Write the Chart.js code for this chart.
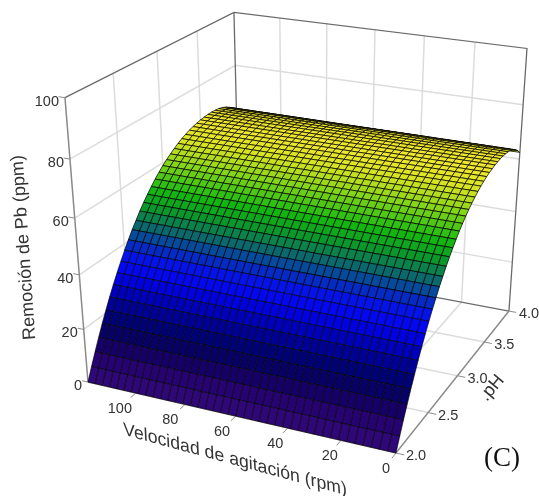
<!DOCTYPE html>
<html>
<head>
<meta charset="utf-8">
<title>Remoción de Pb</title>
<style>
    html, body { margin: 0; padding: 0; background: #fff; }
    canvas { display: block; }
</style>
<script src="https://cdn.jsdelivr.net/npm/chart.js@4"></script>
</head>
<body>
<canvas id="surface" width="539" height="496"></canvas>
<script>
// Mesh of the surface
const velocidad = [0, 3, 6, 9, 12, 15, 18, 21, 24, 27, 30, 33, 36, 39, 42, 45, 48, 51, 54, 57, 60, 63, 66, 69, 72, 75, 78, 81, 84, 87, 90, 93, 96, 99, 102, 105, 108, 111, 114, 117, 120];
const pHValues = [2.00, 2.05, 2.10, 2.15, 2.20, 2.25, 2.30, 2.35, 2.40, 2.45, 2.50, 2.55, 2.60, 2.65, 2.70, 2.75, 2.80, 2.85, 2.90, 2.95, 3.00, 3.05, 3.10, 3.15, 3.20, 3.25, 3.30, 3.35, 3.40, 3.45, 3.50, 3.55, 3.60, 3.65, 3.70, 3.75, 3.80, 3.85, 3.90, 3.95, 4.00];
// Removal for each pH row, the surface is flat along velocidad
const remocion = [0, 4.6, 9.0, 13.2, 17.3, 21.1, 24.8, 28.3, 31.6, 34.7, 37.7, 40.5, 43.2, 45.6, 48.0, 50.2, 52.2, 54.1, 55.9, 57.5, 59.0, 60.3, 61.5, 62.6, 63.6, 64.5, 65.2, 65.9, 66.4, 66.8, 67.2, 67.4, 67.6, 67.6, 67.5, 67.3, 66.9, 66.2, 65.3, 64.1, 62.5];

const velTicks = [0, 20, 40, 60, 80, 100];
const pHTicks = [2.0, 2.5, 3.0, 3.5, 4.0];
const zTicks = [0, 20, 40, 60, 80, 100];

const VEL_MAX = 120, PH_MIN = 2, PH_MAX = 4, Z_MAX = 100;

// Perspective camera fitted to the box corners
const camX = [396, -300.5, 211.9, -31.5];
const camY = [453, -38.3, -81.5, -318.5];
const camW = [1, 0.0855, 0.1944, -0.1006];

const project = (vel, ph, z) => {
    const u = vel / VEL_MAX;
    const v = (ph - PH_MIN) / (PH_MAX - PH_MIN);
    const w = z / Z_MAX;
    const d = camW[0] + camW[1] * u + camW[2] * v + camW[3] * w;
    return {
        x: (camX[0] + camX[1] * u + camX[2] * v + camX[3] * w) / d,
        y: (camY[0] + camY[1] * u + camY[2] * v + camY[3] * w) / d
    };
};

// Colour map of the surface: [ppm, r, g, b]
const colorStops = [
    [0, 50, 8, 120], [5, 44, 5, 118], [10, 26, 0, 105], [17, 0, 0, 100], [24, 0, 0, 160], [30, 0, 0, 225],
    [34.7, 5, 10, 250], [38, 5, 30, 215], [41, 5, 64, 170], [45, 12, 112, 100], [49, 10, 150, 45], [53.5, 20, 185, 15],
    [59.5, 130, 212, 24], [64, 216, 228, 32], [66.7, 240, 232, 44], [70, 232, 222, 36]
];

const colorFor = (z) => {
    let i = 0;
    while (i < colorStops.length - 2 && z > colorStops[i + 1][0]) i++;
    const a = colorStops[i], b = colorStops[i + 1];
    const t = Math.min(1, Math.max(0, (z - a[0]) / (b[0] - a[0])));
    const c = [1, 2, 3].map(k => Math.round(a[k] + (b[k] - a[k]) * t));
    return `rgb(${c[0]}, ${c[1]}, ${c[2]})`;
};

const lineSet = (points, color, width) => ({
    data: points,
    showLine: true,
    borderColor: color,
    borderWidth: width,
    pointRadius: 0,
    fill: false,
    tension: 0
});

const GRID = '#dcdcdc', EDGE = '#6a6a6a', AXIS = '#8a8a8a';
const back = [];

// Walls and floor grid
velTicks.slice(1).forEach(vel => {
    back.push(lineSet([project(vel, PH_MAX, 100), project(vel, PH_MAX, 0), project(vel, PH_MIN, 0)], GRID, 1.5));
});
pHTicks.slice(1, -1).forEach(ph => {
    back.push(lineSet([project(VEL_MAX, ph, 100), project(VEL_MAX, ph, 0), project(0, ph, 0)], GRID, 1.5));
});
zTicks.slice(1, -1).forEach(z => {
    back.push(lineSet([project(VEL_MAX, PH_MIN, z), project(VEL_MAX, PH_MAX, z), project(0, PH_MAX, z)], GRID, 1.5));
});

// Box edges
back.push(lineSet([project(VEL_MAX, PH_MIN, 100), project(VEL_MAX, PH_MAX, 100), project(0, PH_MAX, 100), project(0, PH_MAX, 0)], EDGE, 1.3));
back.push(lineSet([project(VEL_MAX, PH_MAX, 100), project(VEL_MAX, PH_MAX, 0), project(0, PH_MAX, 0)], EDGE, 1.3));

// Axes and their ticks
back.push(lineSet([project(VEL_MAX, PH_MIN, 0), project(VEL_MAX, PH_MIN, 100)], AXIS, 1.5));
back.push(lineSet([project(VEL_MAX, PH_MIN, 0), project(0, PH_MIN, 0), project(0, PH_MAX, 0)], AXIS, 1.5));
velTicks.forEach(vel => back.push(lineSet([project(vel, PH_MIN, 0), project(vel, PH_MIN - 0.06, 0)], AXIS, 1)));
pHTicks.forEach(ph => back.push(lineSet([project(0, ph, 0), project(-3, ph, 0)], AXIS, 1)));
zTicks.forEach(z => back.push(lineSet([project(VEL_MAX, PH_MIN, z), project(VEL_MAX + 2.5, PH_MIN, z)], AXIS, 1)));

// Surface cells, far row first so the near rows paint over them
const cells = [];
for (let j = pHValues.length - 2; j >= 0; j--) {
    const mid = (remocion[j] + remocion[j + 1]) / 2;
    for (let i = 0; i < velocidad.length - 1; i++) {
        cells.push({
            data: [
                project(velocidad[i], pHValues[j], remocion[j]),
                project(velocidad[i + 1], pHValues[j], remocion[j]),
                project(velocidad[i + 1], pHValues[j + 1], remocion[j + 1]),
                project(velocidad[i], pHValues[j + 1], remocion[j + 1]),
                project(velocidad[i], pHValues[j], remocion[j])
            ],
            showLine: true,
            backgroundColor: colorFor(mid),
            // mesh is soft in the blue part of the picture
            borderColor: mid < 38 ? 'rgba(0, 0, 0, 0.6)' : 'rgba(0, 0, 0, 0.72)',
            borderWidth: 1,
            pointRadius: 0,
            fill: 'shape',
            tension: 0
        });
    }
}

// Chart.js paints the first dataset last
const datasets = back.concat(cells).reverse();

const SANS = '"Liberation Sans", Arial, sans-serif';
const INK = '#333333';

const axisText = {
    id: 'axisText',
    afterDraw(chart) {
        const { ctx, scales } = chart;
        const at = (p, dx, dy) => [scales.x.getPixelForValue(p.x) + dx, scales.y.getPixelForValue(p.y) + dy];

        const put = (text, x, y, align) => {
            ctx.textAlign = align;
            ctx.fillText(text, x, y);
        };

        ctx.save();
        ctx.fillStyle = INK;
        ctx.textBaseline = 'middle';
        ctx.font = `14.5px ${SANS}`;
        zTicks.forEach(z => put(String(z), ...at(project(VEL_MAX, PH_MIN, z), -6, 4), 'right'));
        velTicks.forEach(vel => put(String(vel), ...at(project(vel, PH_MIN, 0), -10 - vel * 0.06, 15.5), 'center'));
        pHTicks.forEach(ph => put(ph.toFixed(1), ...at(project(0, ph, 0), 20, 3), 'center'));

        // Axis titles follow the box in perspective
        ctx.save();
        ctx.font = `18.3px ${SANS}`;
        ctx.textAlign = 'center';
        ctx.translate(235, 460);
        ctx.transform(Math.cos(0.265), Math.sin(0.265), 0.05, 1, 0, 0);
        ctx.fillText('Velocidad de agitación (rpm)', 0, 0);
        ctx.restore();

        ctx.save();
        ctx.font = `18px ${SANS}`;
        ctx.textAlign = 'center';
        ctx.translate(24, 247.5);
        ctx.rotate(-1.64);
        ctx.fillText('Remoción de Pb (ppm)', 0, 0);
        ctx.restore();

        ctx.save();
        ctx.font = `18px ${SANS}`;
        ctx.textAlign = 'center';
        ctx.translate(492, 388);
        ctx.rotate(-0.87);
        ctx.fillText('.pH', 0, 0);
        ctx.restore();

        ctx.fillStyle = '#111111';
        ctx.font = '27px "Liberation Serif", "Times New Roman", serif';
        put('(C)', 502, 459, 'center');
        ctx.restore();
    }
};

new Chart(document.getElementById('surface').getContext('2d'), {
    type: 'scatter',
    data: { datasets: datasets },
    options: {
        responsive: false,
        animation: false,
        events: [],
        layout: { padding: 0 },
        plugins: {
            legend: { display: false },
            tooltip: { enabled: false },
            title: { display: false }
        },
        scales: {
            x: { type: 'linear', display: false, min: 0, max: 539 },
            y: { type: 'linear', display: false, min: 0, max: 496, reverse: true }
        }
    },
    plugins: [axisText]
});
</script>
</body>
</html>
